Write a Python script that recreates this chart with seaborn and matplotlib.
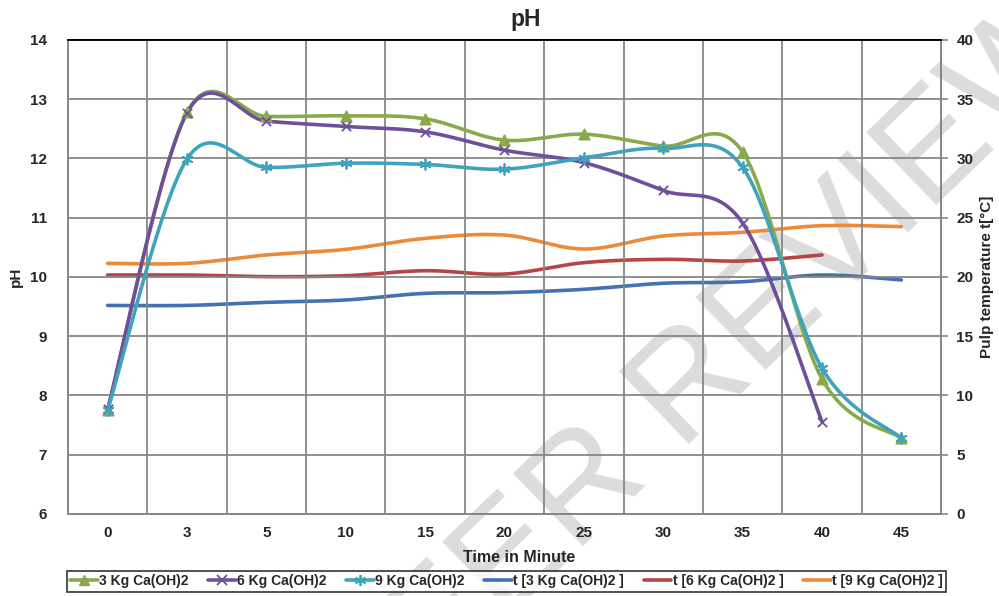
import matplotlib
matplotlib.use('Agg')
import matplotlib.pyplot as plt
from matplotlib.lines import Line2D
import numpy as np
import seaborn as sns

# data
time_labels = ['0', '3', '5', '10', '15', '20', '25', '30', '35', '40', '45']
ph_3kg = [7.75, 12.78, 12.71, 12.72, 12.67, 12.31, 12.41, 12.21, 12.11, 8.28, 7.28]
ph_6kg = [7.77, 12.77, 12.63, 12.54, 12.45, 12.14, 11.93, 11.46, 10.91, 7.56]
ph_9kg = [7.75, 11.99, 11.85, 11.92, 11.90, 11.82, 12.01, 12.17, 11.85, 8.46, 7.28]
t_3kg = [17.6, 17.6, 17.86, 18.06, 18.62, 18.68, 18.96, 19.47, 19.6, 20.17, 19.75]
t_6kg = [20.17, 20.17, 20.03, 20.11, 20.53, 20.25, 21.21, 21.49, 21.35, 21.86]
t_9kg = [21.15, 21.15, 21.86, 22.33, 23.26, 23.54, 22.36, 23.46, 23.77, 24.33, 24.25]

GREEN, PURPLE, CYAN = '#8AAA4A', '#704F9A', '#40A3BE'
BLUE, RED, ORANGE = '#4472B0', '#B84545', '#EC8A3A'
GRID = '#878787'


def smooth(ys, n=30):
    """Excel-like smoothed line (Bezier / Catmull-Rom through the points)."""
    pts = np.column_stack([np.arange(len(ys)), ys]).astype(float)
    t = np.linspace(0, 1, n)[:, None]
    out = []
    for i in range(len(pts) - 1):
        p0 = pts[max(i - 1, 0)]
        p1 = pts[i]
        p2 = pts[i + 1]
        p3 = pts[min(i + 2, len(pts) - 1)]
        c1 = p1 + (p2 - p0) / 6
        c2 = p2 - (p3 - p1) / 6
        seg = ((1 - t) ** 3 * p1 + 3 * (1 - t) ** 2 * t * c1
               + 3 * (1 - t) * t ** 2 * c2 + t ** 3 * p2)
        out.append(seg if i == 0 else seg[1:])
    xy = np.vstack(out)
    return xy[:, 0], xy[:, 1]


sns.set_style('white')
plt.rcParams['font.family'] = ['Liberation Sans', 'DejaVu Sans']
plt.rcParams['font.weight'] = 'bold'

fig = plt.figure(figsize=(9.99, 5.96), dpi=100)
ax = fig.add_axes([0.068, 0.1376, 0.874, 0.7953])
ax.patch.set_alpha(0)
ax2 = ax.twinx()

# watermark behind everything
fig.text(0.705, 0.37, 'PEER REVIEW', rotation=44, ha='center', va='center',
         fontsize=106, fontweight='normal', color='#dcdcdc', zorder=-5)

# temperature lines on the right axis
for vals, col in [(t_3kg, BLUE), (t_6kg, RED), (t_9kg, ORANGE)]:
    sx, sy = smooth(vals)
    sns.lineplot(x=sx, y=sy, ax=ax2, color=col, lw=2.6, sort=False,
                 estimator=None, legend=False)

# pH lines on the left axis, drawn above the temperature lines
ax.set_zorder(ax2.get_zorder() + 1)
ph_series = [(ph_3kg, GREEN, '^', 55),
             (ph_6kg, PURPLE, 'x', 45),
             (ph_9kg, CYAN, (6, 2, 0), 60)]
for vals, col, mk, size in ph_series:
    sx, sy = smooth(vals)
    sns.lineplot(x=sx, y=sy, ax=ax, color=col, lw=2.6, sort=False,
                 estimator=None, legend=False)
    sns.scatterplot(x=np.arange(len(vals)), y=vals, ax=ax, marker=mk, s=size,
                    color=col, edgecolor=col, linewidth=1.3, legend=False,
                    zorder=5)

# axes ranges and ticks
ax.set_xlim(-0.5, len(time_labels) - 0.5)
ax.set_ylim(6, 14)
ax.set_yticks(range(6, 15))
ax.set_xticks(range(len(time_labels)))
ax.set_xticklabels(time_labels)
ax.set_xticks(np.arange(0.5, len(time_labels) - 1, 1), minor=True)
ax2.set_ylim(0, 40)
ax2.set_yticks(range(0, 41, 5))

ax.grid(True, which='major', axis='y', color=GRID, lw=1.3)
ax.grid(True, which='minor', axis='x', color=GRID, lw=1.3)
ax.grid(False, which='major', axis='x')
ax2.grid(False)

ax.tick_params(axis='both', which='both', length=0, labelsize=11)
ax.tick_params(axis='x', pad=9)
ax.tick_params(axis='y', pad=15)
ax2.tick_params(axis='y', length=5, color=GRID, width=1.2, labelsize=11, pad=6)

for a in (ax, ax2):
    for side in ('left', 'right', 'bottom'):
        a.spines[side].set_color(GRID)
        a.spines[side].set_linewidth(1.3)
    a.spines['top'].set_color('black')
    a.spines['top'].set_linewidth(1.3)

ax.set_ylabel('pH', fontsize=11, fontweight='bold', labelpad=5)
ax2.set_ylabel('Pulp temperature t[°C]', fontsize=11, fontweight='bold',
               labelpad=5)
ax.set_xlabel('')
fig.text(0.52, 0.065, 'Time in Minute', ha='center', va='center',
         fontsize=11.5, fontweight='bold')
fig.text(0.526, 0.968, 'pH', ha='center', va='center', fontsize=16.5,
         fontweight='bold')

handles = [
    Line2D([], [], color=GREEN, lw=2.6, marker='^', ms=7),
    Line2D([], [], color=PURPLE, lw=2.6, marker='x', ms=7, mew=1.3),
    Line2D([], [], color=CYAN, lw=2.6, marker=(6, 2, 0), ms=8, mew=1.3),
    Line2D([], [], color=BLUE, lw=2.6),
    Line2D([], [], color=RED, lw=2.6),
    Line2D([], [], color=ORANGE, lw=2.6),
]
labels = ['3 Kg Ca(OH)2', '6 Kg Ca(OH)2', '9 Kg Ca(OH)2',
          't [3 Kg Ca(OH)2 ]', 't [6 Kg Ca(OH)2 ]', 't [9 Kg Ca(OH)2 ]']
leg = fig.legend(handles, labels, loc='center', bbox_to_anchor=(0.507, 0.025),
                 ncol=6, frameon=True, fancybox=False, edgecolor='black',
                 fontsize=10, handlelength=2.0, handletextpad=0.1,
                 columnspacing=1.4, borderpad=0.25, borderaxespad=0)
leg.get_frame().set_linewidth(1.2)
for txt in leg.get_texts():
    txt.set_fontweight('bold')

fig.savefig('out.png', dpi=100)
